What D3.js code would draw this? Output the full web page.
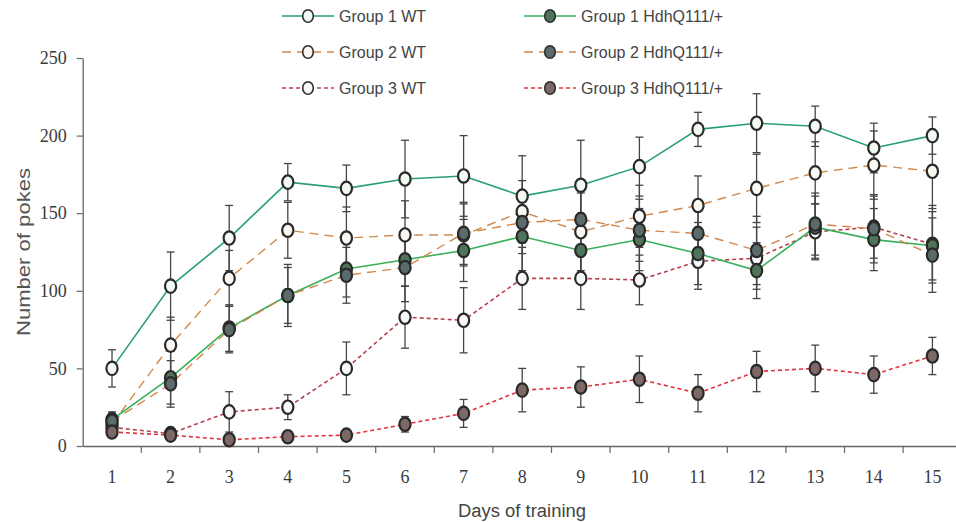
<!DOCTYPE html>
<html>
<head>
<meta charset="utf-8">
<script src="https://cdn.jsdelivr.net/npm/d3@7/dist/d3.min.js"></script>
<style>
  body { margin: 0; background: #fff; }
  svg { display: block; }
</style>
</head>
<body>
<svg id="chart" width="956" height="522"></svg>
<script>
// Training days (x categories) and y tick values
const days = [1, 2, 3, 4, 5, 6, 7, 8, 9, 10, 11, 12, 13, 14, 15];
const yTicks = [0, 50, 100, 150, 200, 250];

// Mean number of pokes per day, with error (± SEM)
const g1WT      = [50, 103, 134, 170, 166, 172, 174, 161, 168, 180, 204, 208, 206, 192, 200];
const g1WTErr   = [12, 22, 21, 12, 15, 25, 26, 26, 29, 19, 11, 19, 13, 16, 12];
const g1Hdh     = [17, 44, 76, 97, 114, 120, 126, 135, 126, 133, 124, 113, 141, 133, 129];
const g1HdhErr  = [5, 17, 15, 20, 18, 17, 20, 22, 20, 20, 20, 18, 20, 20, 22];
const g2WT      = [14, 65, 108, 139, 134, 136, 136, 151, 138, 148, 155, 166, 176, 181, 177];
const g2WTErr   = [6, 18, 18, 18, 20, 22, 20, 20, 25, 20, 19, 22, 20, 22, 24];
const g2Hdh     = [16, 40, 75, 97, 110, 115, 137, 144, 146, 139, 137, 126, 143, 140, 123];
const g2HdhErr  = [5, 15, 15, 18, 18, 22, 20, 20, 22, 20, 20, 22, 20, 22, 24];
const g3WT      = [12, 8, 22, 25, 50, 83, 81, 108, 108, 107, 119, 121, 138, 141, 130];
const g3WTErr   = [4, 3, 13, 8, 17, 20, 21, 20, 20, 16, 18, 20, 18, 20, 25];
const g3Hdh     = [9, 7, 4, 6, 7, 14, 21, 36, 38, 43, 34, 48, 50, 46, 58];
const g3HdhErr  = [3, 2, 2, 2, 2, 5, 9, 14, 13, 15, 12, 13, 15, 12, 12];

const seriesNames = ["Group 1 WT", "Group 2 WT", "Group 3 WT",
                     "Group 1 HdhQ111/+", "Group 2 HdhQ111/+", "Group 3 HdhQ111/+"];

// Series table: values, errors and drawing style
const series = [
  { name: seriesNames[0], values: g1WT,  err: g1WTErr,  line: "#2aa06e", dash: null,  fill: "#f1faf2", lw: 1.6 },
  { name: seriesNames[1], values: g2WT,  err: g2WTErr,  line: "#cf8a4c", dash: "9,6", fill: "#fbf8f2", lw: 1.4 },
  { name: seriesNames[2], values: g3WT,  err: g3WTErr,  line: "#b8404e", dash: "4,3", fill: "#f8f8fb", lw: 1.6 },
  { name: seriesNames[3], values: g1Hdh, err: g1HdhErr, line: "#38b05a", dash: null,  fill: "#4e7558", lw: 1.6 },
  { name: seriesNames[4], values: g2Hdh, err: g2HdhErr, line: "#d4864a", dash: "9,6", fill: "#5b6b6c", lw: 1.4 },
  { name: seriesNames[5], values: g3Hdh, err: g3HdhErr, line: "#e2343e", dash: "4,3", fill: "#7d6866", lw: 1.6 }
];

const svg = d3.select("#chart");
const numFont = "'Liberation Serif', 'DejaVu Serif', serif";
const textFont = "'Liberation Sans', 'DejaVu Sans Condensed', sans-serif";

const x = d3.scaleBand().domain(days).range([82.7, 961.7]).paddingInner(0).paddingOuter(0);
const y = d3.scaleLinear().domain([0, 250]).range([446, 58]);
const cx = d => x(d) + x.bandwidth() / 2;

// Y axis
const yAxis = svg.append("g")
  .attr("transform", `translate(${x.range()[0]},0)`)
  .call(d3.axisLeft(y).tickValues(yTicks).tickSize(6).tickSizeOuter(0).tickPadding(10));
yAxis.select(".domain").attr("stroke", "#666").attr("stroke-width", 1.3);
yAxis.selectAll(".tick line").attr("stroke", "#666").attr("stroke-width", 1.2);
yAxis.selectAll(".tick text")
  .attr("font-family", numFont).attr("font-size", 18).attr("fill", "#3a3a3a");

// X axis: labels centred in each day band, tick marks on band boundaries
const xAxis = svg.append("g")
  .attr("transform", `translate(0,${y(0)})`)
  .call(d3.axisBottom(x).tickSize(0).tickPadding(24).tickSizeOuter(0));
xAxis.select(".domain").attr("stroke", "#666").attr("stroke-width", 1.3);
xAxis.selectAll(".tick text")
  .attr("font-family", numFont).attr("font-size", 18).attr("fill", "#3a3a3a");
xAxis.selectAll(".boundary")
  .data(days.slice(1))
  .join("line")
  .attr("class", "boundary")
  .attr("x1", d => x(d)).attr("x2", d => x(d))
  .attr("y1", 0).attr("y2", 7)
  .attr("stroke", "#666").attr("stroke-width", 1.2);

// Axis titles
svg.append("text")
  .attr("x", 522).attr("y", 517)
  .attr("text-anchor", "middle")
  .attr("font-family", textFont).attr("font-size", 18).attr("fill", "#444")
  .attr("textLength", 128).attr("lengthAdjust", "spacingAndGlyphs")
  .text("Days of training");

svg.append("text")
  .attr("transform", "translate(24,252) rotate(-90)")
  .attr("text-anchor", "middle").attr("dominant-baseline", "central")
  .attr("font-family", textFont).attr("font-size", 18).attr("fill", "#555")
  .attr("textLength", 168).attr("lengthAdjust", "spacingAndGlyphs")
  .text("Number of pokes");

const plot = svg.append("g");

// Error bars
const capHalf = 4;
series.forEach(s => {
  const g = plot.append("g").attr("stroke", "#454545").attr("stroke-width", 1.3);
  days.forEach((d, i) => {
    const v = s.values[i], e = s.err[i];
    const top = y(v + e), bot = y(Math.max(0, v - e));
    g.append("line").attr("x1", cx(d)).attr("x2", cx(d)).attr("y1", top).attr("y2", bot);
    g.append("line").attr("x1", cx(d) - capHalf).attr("x2", cx(d) + capHalf).attr("y1", top).attr("y2", top);
    g.append("line").attr("x1", cx(d) - capHalf).attr("x2", cx(d) + capHalf).attr("y1", bot).attr("y2", bot);
  });
});

// Lines
const lineGen = d3.line().x((v, i) => cx(days[i])).y(v => y(v));
series.forEach(s => {
  plot.append("path")
    .datum(s.values)
    .attr("d", lineGen)
    .attr("fill", "none")
    .attr("stroke", s.line)
    .attr("stroke-width", s.lw)
    .attr("stroke-dasharray", s.dash);
});

// Markers
series.forEach(s => {
  plot.append("g").selectAll("ellipse")
    .data(s.values)
    .join("ellipse")
    .attr("cx", (v, i) => cx(days[i]))
    .attr("cy", v => y(v))
    .attr("rx", 5.6).attr("ry", 6.7)
    .attr("fill", s.fill)
    .attr("stroke", "#2a2a2a")
    .attr("stroke-width", 2.2);
});

// Legend: two columns of three rows
const legendCols = [282, 524];
const legendRows = [16, 52, 88];
const legend = svg.append("g");
series.forEach((s, k) => {
  const col = Math.floor(k / 3), row = k % 3;
  const lx = legendCols[col], ly = legendRows[row];
  const item = legend.append("g").attr("transform", `translate(${lx},${ly})`);
  item.append("line")
    .attr("x1", 0).attr("x2", 52).attr("y1", 0).attr("y2", 0)
    .attr("stroke", s.line).attr("stroke-width", s.lw)
    .attr("stroke-dasharray", s.dash);
  item.append("ellipse")
    .attr("cx", 26).attr("cy", 0).attr("rx", 5.3).attr("ry", 6.3)
    .attr("fill", s.fill).attr("stroke", "#2e2e2e").attr("stroke-width", 1.6);
  item.append("text")
    .attr("x", 57).attr("y", 0)
    .attr("dominant-baseline", "central")
    .attr("font-family", textFont).attr("font-size", 16).attr("fill", "#444")
    .text(s.name);
});
</script>
</body>
</html>
